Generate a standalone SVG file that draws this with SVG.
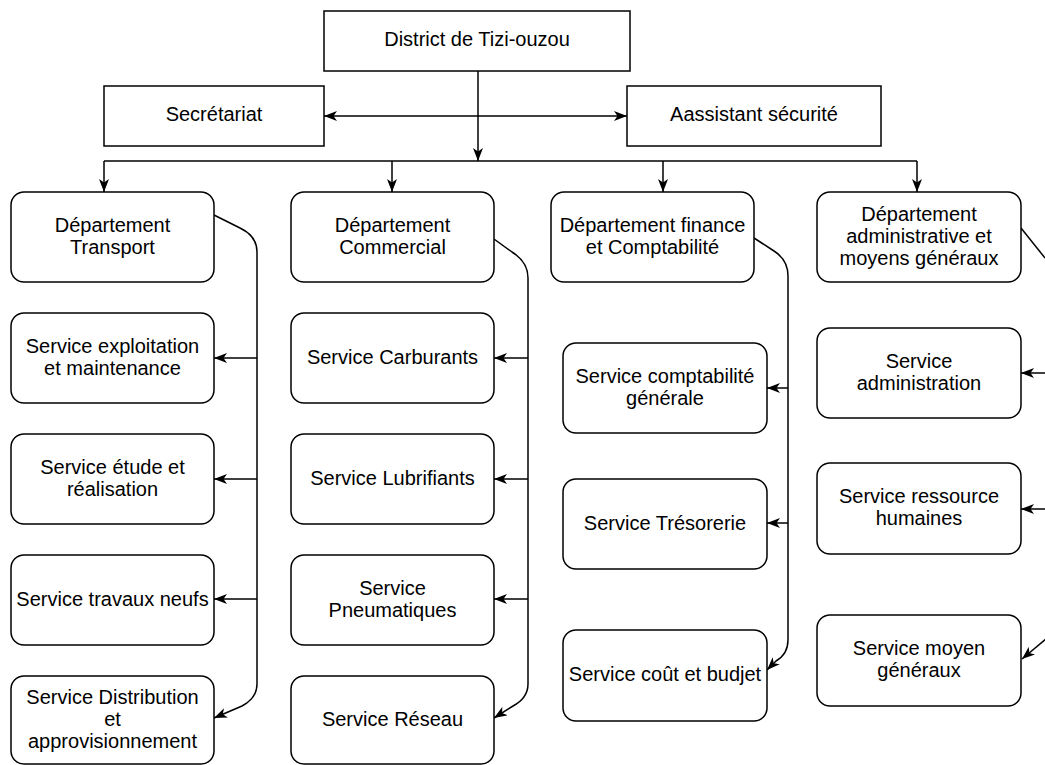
<svg xmlns="http://www.w3.org/2000/svg" width="1045" height="765" viewBox="0 0 1045 765">
<style>
.box{fill:#fff;stroke:#000;stroke-width:1.5}
.t{font-family:"Liberation Sans",Arial,sans-serif;font-size:20px;fill:#000;text-anchor:middle}
.c{fill:none;stroke:#000;stroke-width:1.5}
</style>
<defs>
<marker id="a" viewBox="0 0 13 10" refX="13" refY="5" markerWidth="13" markerHeight="10" markerUnits="userSpaceOnUse" orient="auto-start-reverse">
<path d="M0,0 L13,5 L0,10 L3.5,5 z" fill="#000"/>
</marker>
</defs>
<rect width="1045" height="765" fill="#fff"/>
<g id="connectors">
<path class="c" d="M478,71 L478,161" marker-end="url(#a)"/>
<path class="c" d="M324,116 L627,116" marker-start="url(#a)" marker-end="url(#a)"/>
<path class="c" d="M104,161 L917,161"/>
<path class="c" d="M104,161 L104,192" marker-end="url(#a)"/>
<path class="c" d="M392,161 L392,192" marker-end="url(#a)"/>
<path class="c" d="M663,161 L663,192" marker-end="url(#a)"/>
<path class="c" d="M917,161 L917,192" marker-end="url(#a)"/>
<path class="c" d="M214,215 L240,228 Q257,236 257,252 L257,684 Q257,698 242,706 L214,718" marker-end="url(#a)"/>
<path class="c" d="M257,358 L214,358" marker-end="url(#a)"/>
<path class="c" d="M257,479 L214,479" marker-end="url(#a)"/>
<path class="c" d="M257,599 L214,599" marker-end="url(#a)"/>
<path class="c" d="M494,239 L512,252 Q528,262 528,278 L528,684 Q528,698 513,706 L494,718" marker-end="url(#a)"/>
<path class="c" d="M528,358 L494,358" marker-end="url(#a)"/>
<path class="c" d="M528,479 L494,479" marker-end="url(#a)"/>
<path class="c" d="M528,599 L494,599" marker-end="url(#a)"/>
<path class="c" d="M754,238 L774,251 Q788,260 788,276 L788,640 Q788,654 776,661 L767,670" marker-end="url(#a)"/>
<path class="c" d="M788,388 L767,388" marker-end="url(#a)"/>
<path class="c" d="M788,523 L767,523" marker-end="url(#a)"/>
<path class="c" d="M1021,228 L1045,258"/>
<path class="c" d="M1045,373 L1021,373" marker-end="url(#a)"/>
<path class="c" d="M1045,509 L1021,509" marker-end="url(#a)"/>
<path class="c" d="M1047,638 L1022,659" marker-end="url(#a)"/>
</g>
<g id="district"><rect class="box" x="324" y="11" width="306" height="60"/><text class="t" x="477" y="46">District de Tizi-ouzou</text></g>
<g id="secretariat"><rect class="box" x="104" y="86" width="220" height="60"/><text class="t" x="214" y="121">Secrétariat</text></g>
<g id="assistant"><rect class="box" x="627" y="86" width="254" height="60"/><text class="t" x="754" y="121">Aassistant sécurité</text></g>

<g id="dep-transport"><rect class="box" x="11" y="192" width="203" height="90" rx="13"/><text class="t" x="112.5" y="231.5">Département</text><text class="t" x="112.5" y="253.5">Transport</text></g>
<g id="svc-exploitation"><rect class="box" x="11" y="313" width="203" height="90" rx="13"/><text class="t" x="112.5" y="352.5">Service exploitation</text><text class="t" x="112.5" y="374.5">et maintenance</text></g>
<g id="svc-etude"><rect class="box" x="11" y="434" width="203" height="90" rx="13"/><text class="t" x="112.5" y="473.5">Service étude et</text><text class="t" x="112.5" y="495.5">réalisation</text></g>
<g id="svc-travaux"><rect class="box" x="11" y="555" width="203" height="90" rx="13"/><text class="t" x="112.5" y="605.5">Service travaux neufs</text></g>
<g id="svc-distribution"><rect class="box" x="11" y="676" width="203" height="88" rx="13"/><text class="t" x="112.5" y="703.5">Service Distribution</text><text class="t" x="112.5" y="725.5">et</text><text class="t" x="112.5" y="747.5">approvisionnement</text></g>

<g id="dep-commercial"><rect class="box" x="291" y="192" width="203" height="90" rx="13"/><text class="t" x="392.5" y="231.5">Département</text><text class="t" x="392.5" y="253.5">Commercial</text></g>
<g id="svc-carburants"><rect class="box" x="291" y="313" width="203" height="90" rx="13"/><text class="t" x="392.5" y="363.5">Service Carburants</text></g>
<g id="svc-lubrifiants"><rect class="box" x="291" y="434" width="203" height="90" rx="13"/><text class="t" x="392.5" y="484.5">Service Lubrifiants</text></g>
<g id="svc-pneumatiques"><rect class="box" x="291" y="555" width="203" height="90" rx="13"/><text class="t" x="392.5" y="594.5">Service</text><text class="t" x="392.5" y="616.5">Pneumatiques</text></g>
<g id="svc-reseau"><rect class="box" x="291" y="676" width="203" height="88" rx="13"/><text class="t" x="392.5" y="725.5">Service Réseau</text></g>

<g id="dep-finance"><rect class="box" x="551" y="192" width="203" height="90" rx="13"/><text class="t" x="652.5" y="231.5">Département finance</text><text class="t" x="652.5" y="253.5">et Comptabilité</text></g>
<g id="svc-comptabilite"><rect class="box" x="563" y="343" width="204" height="90" rx="13"/><text class="t" x="665" y="382.5">Service comptabilité</text><text class="t" x="665" y="404.5">générale</text></g>
<g id="svc-tresorerie"><rect class="box" x="563" y="479" width="204" height="90" rx="13"/><text class="t" x="665" y="529.5">Service Trésorerie</text></g>
<g id="svc-cout"><rect class="box" x="563" y="630" width="204" height="91" rx="13"/><text class="t" x="665" y="681">Service coût et budjet</text></g>

<g id="dep-admin"><rect class="box" x="817" y="192" width="204" height="90" rx="13"/><text class="t" x="919" y="220.5">Département</text><text class="t" x="919" y="242.5">administrative et</text><text class="t" x="919" y="264.5">moyens généraux</text></g>
<g id="svc-administration"><rect class="box" x="817" y="328" width="204" height="90" rx="13"/><text class="t" x="919" y="367.5">Service</text><text class="t" x="919" y="389.5">administration</text></g>
<g id="svc-rh"><rect class="box" x="817" y="463" width="204" height="91" rx="13"/><text class="t" x="919" y="503">Service ressource</text><text class="t" x="919" y="525">humaines</text></g>
<g id="svc-moyen"><rect class="box" x="817" y="615" width="204" height="91" rx="13"/><text class="t" x="919" y="655">Service moyen</text><text class="t" x="919" y="677">généraux</text></g>
</svg>
